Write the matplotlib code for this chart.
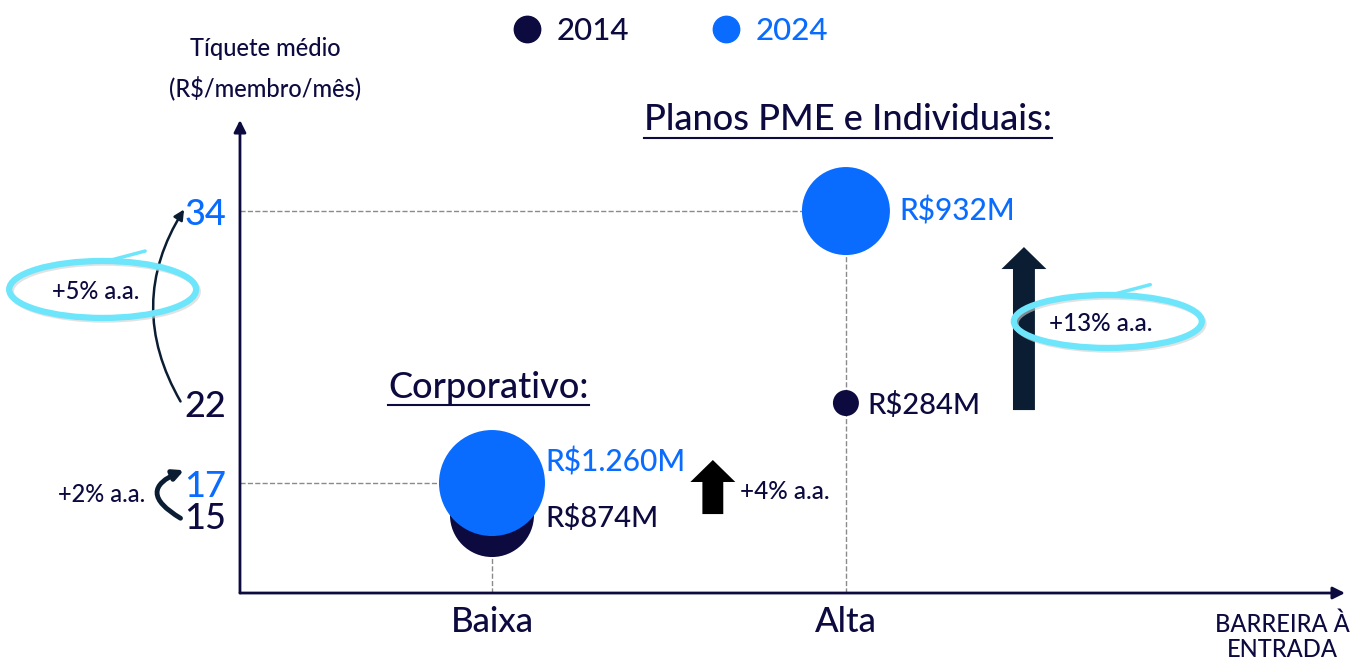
import matplotlib
matplotlib.use('Agg')
import matplotlib.pyplot as plt
from matplotlib.patches import Ellipse, FancyArrow
from matplotlib.lines import Line2D
import matplotlib.transforms as mtransforms

plt.rcParams['font.family'] = ['Lato', 'DejaVu Sans']
plt.rcParams['font.weight'] = 'medium'

# data
categories = ['Baixa', 'Alta']
ticket_2014 = [15, 22]
ticket_2024 = [17, 34]
revenue_2014 = ['R$874M', 'R$284M']
revenue_2024 = ['R$1.260M', 'R$932M']
growth_ticket = ['+2% a.a.', '+5% a.a.']
growth_revenue = ['+4% a.a.', '+13% a.a.']
group_titles = ['Corporativo:', 'Planos PME e Individuais:']

NAVY = '#0c0a3e'
BLUE = '#0a6cff'
CYAN = '#6de6fb'
DARK = '#0b1d33'
GREY = '#8a8a8a'

# bubble sizes (points^2)
size_2014 = [3660, 350]
size_2024 = [5825, 4015]

fig = plt.figure(figsize=(13.55, 6.62), dpi=100)
ax = fig.add_axes([0.1771, 0.1042, 0.8155, 0.7145])
ax.set_xlim(-0.712, 2.41)
ax.set_ylim(10.125, 39.69)
x = [0, 1]

for s in ax.spines.values():
    s.set_visible(False)
ax.annotate('', xy=(1.0, 0), xytext=(0, 0), xycoords='axes fraction',
            arrowprops=dict(arrowstyle='-|>', color=NAVY, lw=2, mutation_scale=18,
                            shrinkA=0, shrinkB=0))
ax.annotate('', xy=(0, 1.0), xytext=(0, 0), xycoords='axes fraction',
            arrowprops=dict(arrowstyle='-|>', color=NAVY, lw=2, mutation_scale=18,
                            shrinkA=0, shrinkB=0))

# dashed guides
ax.plot([-0.712, x[1]], [ticket_2024[1]] * 2, ls='--', color=GREY, lw=1, zorder=1)
ax.plot([-0.712, x[0]], [ticket_2024[0]] * 2, ls='--', color=GREY, lw=1, zorder=1)
ax.plot([x[1], x[1]], [10.125, ticket_2024[1]], ls='--', color=GREY, lw=1, zorder=1)
ax.plot([x[0], x[0]], [10.125, ticket_2014[0]], ls='--', color=GREY, lw=1, zorder=1)

# bubbles
ax.scatter(x, ticket_2014, s=size_2014, color=NAVY, zorder=3, linewidths=0)
ax.scatter(x, ticket_2024, s=size_2024, color=BLUE, zorder=4, linewidths=0)

# bubble labels
ax.text(x[0] + 0.15, ticket_2024[0] + 1.3, revenue_2024[0], color=BLUE, fontsize=21.5,
        va='center', ha='left', zorder=5)
ax.text(x[0] + 0.15, ticket_2014[0] - 0.2, revenue_2014[0], color=NAVY, fontsize=21,
        va='center', ha='left', zorder=5)
ax.text(x[1] + 0.15, ticket_2024[1], revenue_2024[1], color=BLUE, fontsize=21.5,
        va='center', ha='left', zorder=5)
ax.text(x[1] + 0.06, ticket_2014[1] - 0.15, revenue_2014[1], color=NAVY, fontsize=21,
        va='center', ha='left', zorder=5)

# ticks
ax.set_xticks(x)
ax.set_xticklabels(categories, fontsize=25, color=NAVY)
ax.tick_params(axis='x', length=0, pad=9)
yt = [ticket_2014[0], ticket_2024[0], ticket_2014[1], ticket_2024[1]]
ax.set_yticks(yt)
ax.set_yticklabels([str(v) for v in yt], fontsize=26)
ax.tick_params(axis='y', length=0, pad=10)
for lab, c in zip(ax.get_yticklabels(), [NAVY, BLUE, NAVY, BLUE]):
    lab.set_color(c)

# axis titles
fig.text(265 / 1355, 1 - 48 / 662, 'Tíquete médio', fontsize=17, color=NAVY,
         ha='center', va='center')
fig.text(265 / 1355, 1 - 88 / 662, '(R$/membro/mês)', fontsize=17, color=NAVY,
         ha='center', va='center')
fig.text(1282 / 1355, 1 - 637 / 662, 'BARREIRA À\nENTRADA', fontsize=17, color=NAVY,
         ha='center', va='center', linespacing=1.1)

# group titles, underlined
def underlined(xc, yc, txt):
    t = ax.text(xc, yc, txt, fontsize=26, color=NAVY, ha='center', va='center')
    fig.canvas.draw()
    bb = t.get_window_extent().transformed(ax.transData.inverted())
    ax.plot([bb.x0, bb.x1], [bb.y0 - 0.1] * 2, color=NAVY, lw=1.5, clip_on=False)

underlined(-0.01, 23.0, group_titles[0])
underlined(1.006, 39.7, group_titles[1])

# growth arrows
ax.add_patch(FancyArrow(1.503, 21.56, 0, 31.75 - 21.56, width=0.062, head_width=0.127,
                        head_length=1.375, length_includes_head=True, color=DARK,
                        lw=0, zorder=3))
ax.add_patch(FancyArrow(0.624, 15.06, 0, 18.44 - 15.06, width=0.059, head_width=0.127,
                        head_length=1.375, length_includes_head=True, color='black',
                        lw=0, zorder=3))
ax.text(0.70, 16.5, growth_revenue[0], fontsize=17.5, color=NAVY, va='center', ha='left')

# +13% ellipse
shadow = ax.transData + mtransforms.Affine2D().translate(2, -2)
ax.add_patch(Ellipse((1.74, 27.1), 188 / 354, 53 / 16, fill=False, ec='#d0d0d0',
                     lw=4, zorder=4, alpha=0.6, transform=shadow))
ax.add_patch(Ellipse((1.74, 27.1), 188 / 354, 53 / 16, fill=False, ec=CYAN, lw=4.5, zorder=5))
ax.plot([1.74, 1.86], [28.7, 29.4], color=CYAN, lw=2.5, solid_capstyle='round', zorder=5)
ax.text(1.72, 27.0, growth_revenue[1], fontsize=17.5, color=NAVY, va='center', ha='center',
        zorder=6)

# left side annotations (outside axes)
ax.annotate('', xy=(-0.87, 34.1), xytext=(-0.88, 22.1),
            arrowprops=dict(arrowstyle='-|>', color=DARK, lw=1.8, mutation_scale=15,
                            connectionstyle='arc3,rad=-0.3', shrinkA=0, shrinkB=0),
            annotation_clip=False)
ax.annotate('', xy=(-0.87, 17.8), xytext=(-0.88, 14.8),
            arrowprops=dict(arrowstyle='-|>', color=DARK, lw=3.5, mutation_scale=15,
                            connectionstyle='arc3,rad=-1.0', shrinkA=0, shrinkB=0),
            annotation_clip=False)
ax.text(-0.98, 16.3, growth_ticket[0], fontsize=17, color=NAVY, ha='right', va='center',
        clip_on=False)

ax.add_patch(Ellipse((-1.1, 29.1), 187 / 354, 57 / 16, fill=False, ec='#d0d0d0', lw=4,
                     zorder=4, alpha=0.6, clip_on=False, transform=shadow))
ax.add_patch(Ellipse((-1.1, 29.1), 187 / 354, 57 / 16, fill=False, ec=CYAN, lw=4.5,
                     zorder=5, clip_on=False))
ax.plot([-1.1, -0.98], [30.8, 31.5], color=CYAN, lw=2.5, solid_capstyle='round', zorder=5,
        clip_on=False)
ax.text(-1.12, 29.0, growth_ticket[1], fontsize=17, color=NAVY, ha='center', va='center',
        clip_on=False, zorder=6)

# legend
handles = [Line2D([], [], marker='o', ls='', color=NAVY, markersize=19, label='2014'),
           Line2D([], [], marker='o', ls='', color=BLUE, markersize=19, label='2024')]
leg = fig.legend(handles=handles, loc='center', bbox_to_anchor=(670 / 1355, 1 - 31 / 662),
                 ncol=2, frameon=False, fontsize=22.5, handletextpad=0.45, columnspacing=2.6,
                 handlelength=1.0)
for t, c in zip(leg.get_texts(), [NAVY, BLUE]):
    t.set_color(c)

fig.savefig('out.png', dpi=100)
